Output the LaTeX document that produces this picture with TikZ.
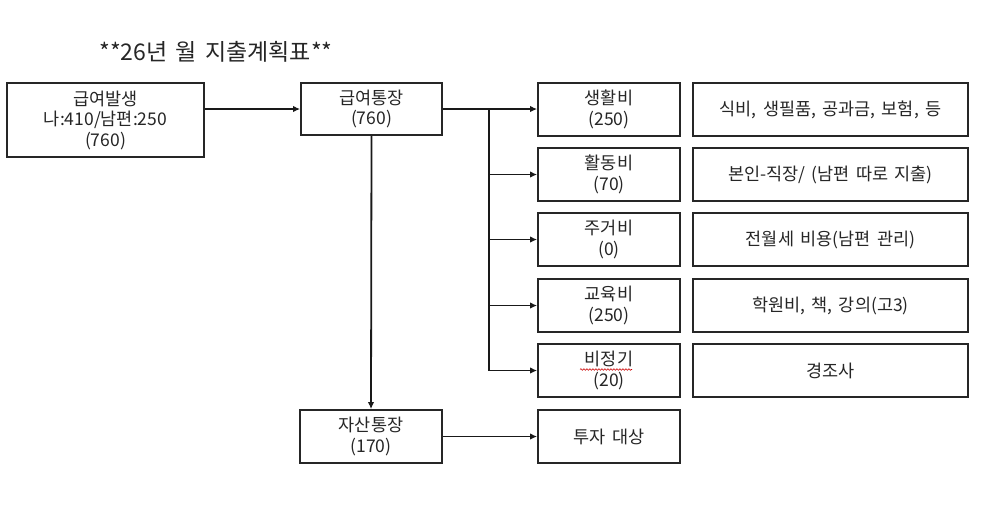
\documentclass[tikz,border=0pt]{standalone}
\usepackage{fontspec}
\newfontfamily\kr[WordSpace=1.6]{Noto Sans CJK KR}
\usetikzlibrary{arrows.meta,decorations.pathmorphing}
\tikzset{
  box/.style={draw=black!85, line width=1.8pt, fill=white, align=center, inner sep=0pt,
    minimum height=53pt, font=\kr\fontsize{17.5}{20.5}\selectfont, text=black!85},
  colA/.style={box, minimum width=142pt},
  colB/.style={box, minimum width=275pt},
  conn/.style={line width=1.8pt, draw=black!90},
  arr/.style={conn, -{Latex[length=7pt,width=6.5pt]}},
}
\begin{document}
\begin{tikzpicture}[x=1pt,y=1pt]
\useasboundingbox (0,0) rectangle (1004,-504);
\node[font=\kr\fontsize{23}{26}\selectfont, text=black!85] (title) at (216,-52) {**26년 월 지출계획표**};

\node[box, minimum width=197pt, minimum height=74pt] (A) at (105.5,-120) {급여발생\\나:410/남편:250\\(760)};
\node[box, minimum width=141pt, minimum height=52pt] (B) at (371.5,-109) {급여통장\\(760)};
\node[colA] (S) at (371,-436.5) {자산통장\\(170)};

\node[colA] (r1) at (609,-109.5) {생활비\\(250)};
\node[colA] (r2) at (609,-174.5) {활동비\\(70)};
\node[colA] (r3) at (609,-239.5) {주거비\\(0)};
\node[colA] (r4) at (609,-305.5) {교육비\\(250)};
\node[colA] (r5) at (609,-370.5) {비정기\\(20)};
\node[colA] (T) at (609,-436.5) {투자 대상};

\node[colB] (d1) at (830.5,-109.5) {식비, 생필품, 공과금, 보험, 등};
\node[colB] (d2) at (830.5,-174.5) {본인-직장/ (남편 따로 지출)};
\node[colB] (d3) at (830.5,-239.5) {전월세 비용(남편 관리)};
\node[colB] (d4) at (830.5,-305.5) {학원비, 책, 강의(고3)};
\node[colB] (d5) at (830.5,-370.5) {경조사};

\draw[arr] (A.east |- B.west) -- (B.west);
\draw[arr] (B.east) -- (B.east -| r1.west);
\coordinate (j) at (489,-109);
\draw[conn] (j) -- (j |- r5.west);
\draw[arr] (j |- r2.west) -- (r2.west);
\draw[arr] (j |- r3.west) -- (r3.west);
\draw[arr] (j |- r4.west) -- (r4.west);
\draw[arr] (j |- r5.west) -- (r5.west);
\draw[arr] (B.south) -- (S.north);
\draw[arr] (S.east) -- (T.west);

\coordinate (w1) at (580,-369.5);
\coordinate (w2) at (632,-369.5);
\draw[red!80!black, line width=0.6pt, decorate, decoration={snake, amplitude=0.8pt, segment length=3pt}] (w1) -- (w2);
\end{tikzpicture}
\end{document}
